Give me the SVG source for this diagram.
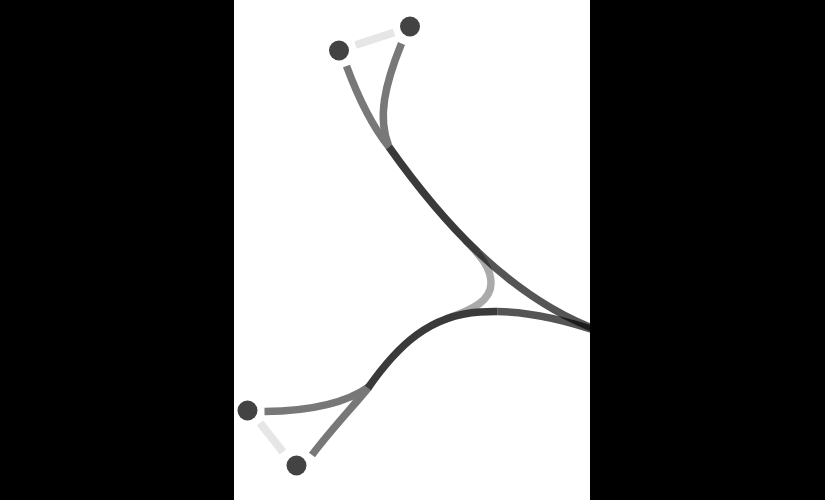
<svg xmlns="http://www.w3.org/2000/svg" width="825" height="500" viewBox="0 0 825 500">
<style>
.edge{fill:none;stroke-width:7.5;stroke-linecap:butt}
.single{stroke:#787878}
.light{stroke:#aaaaaa}
.dark{stroke:#3a3a3a}
.fade{stroke:#000000;stroke-opacity:0.667}
.link{fill:none;stroke:#e6e6e6;stroke-width:8}
.node circle{fill:#434343}
</style>
<rect x="0" y="0" width="825" height="500" fill="#000000"/>
<rect x="234" y="0" width="356" height="500" fill="#ffffff"/>
<g id="connectors">
  <line class="link" x1="355.5" y1="45" x2="394" y2="32.5"/>
  <line class="link" x1="260" y1="423" x2="283" y2="452"/>
  <path class="edge light" d="M465.3,239.9 C478,254 491,266 491,283 C491,300 475,309 445.6,319.1"/>
  <path class="edge single" d="M346.5,66 C358,97 372,126 389,147"/>
  <path class="edge single" d="M401.5,43.5 C385,84 377,118 389,147"/>
  <path class="edge single" d="M264.5,411.5 C316,411 348,402 370,386"/>
  <path class="edge single" d="M312,455 C330,431 350,410 369,387"/>
  <path class="edge dark" d="M389,147 C409.67,176.15 439.61,215.97 478.08,252.33"/>
  <path class="edge fade" d="M478.08,252.33 C512.19,284.57 553,314.08 600,331"/>
  <path class="edge dark" d="M368,388 C398,345 430,315 480,312 C485.85,311.61 491.62,311.46 497.3,311.51"/>
  <path class="edge fade" d="M497.3,311.51 C535.32,311.88 569.55,321.56 600,332"/>
</g>
<rect x="590" y="0" width="235" height="500" fill="#000000"/>
<g id="node-1" class="node"><circle cx="339" cy="50.5" r="10"/></g>
<g id="node-2" class="node"><circle cx="410" cy="26.5" r="10"/></g>
<g id="node-3" class="node"><circle cx="247.5" cy="410.5" r="10"/></g>
<g id="node-4" class="node"><circle cx="296.5" cy="465.5" r="10"/></g>
</svg>
